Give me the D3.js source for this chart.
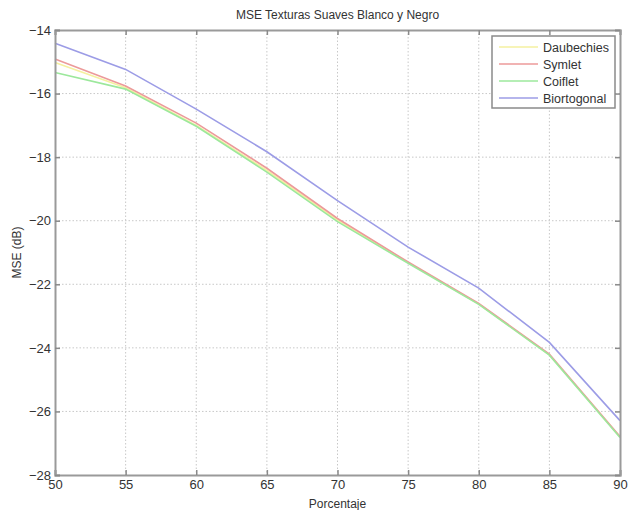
<!DOCTYPE html>
<html>
<head>
<meta charset="utf-8">
<script src="https://cdn.jsdelivr.net/npm/d3@7"></script>
<style>
  body { margin: 0; background: #fff; }
  text { font-family: "Liberation Sans", Arial, sans-serif; }
</style>
</head>
<body>
<div id="chart"></div>
<script>
// Data
const porcentaje = [50, 55, 60, 65, 70, 75, 80, 85, 90];
const daubechies = [-15.02, -15.82, -17.00, -18.42, -19.98, -21.32, -22.62, -24.22, -26.80];
const symlet = [-14.91, -15.76, -16.93, -18.35, -19.93, -21.30, -22.60, -24.20, -26.79];
const coiflet = [-15.34, -15.86, -17.03, -18.47, -20.03, -21.34, -22.63, -24.23, -26.82];
const biortogonal = [-14.42, -15.24, -16.49, -17.83, -19.37, -20.83, -22.12, -23.83, -26.29];
const xTicks = [50, 55, 60, 65, 70, 75, 80, 85, 90];
const yTicks = [-14, -16, -18, -20, -22, -24, -26, -28];

const series = [
    { name: "Daubechies", values: daubechies, color: "#f5f0a0" },
    { name: "Symlet", values: symlet, color: "#ec9a9a" },
    { name: "Coiflet", values: coiflet, color: "#9ce89c" },
    { name: "Biortogonal", values: biortogonal, color: "#9c9ce6" }
];

// Set up dimensions and margins
const margin = { top: 30, right: 16, bottom: 35, left: 55 };
const width = 636 - margin.left - margin.right;
const height = 510 - margin.top - margin.bottom;

const svg = d3.select("#chart")
    .append("svg")
    .attr("width", 636)
    .attr("height", 510)
    .append("g")
    .attr("transform", "translate(" + margin.left + "," + margin.top + ")");

// Scales
const xScale = d3.scaleLinear().domain([50, 90]).range([0, width]);
const yScale = d3.scaleLinear().domain([-28, -14]).range([height, 0]);

// Grid lines
svg.append("g")
    .selectAll("line")
    .data(xTicks.slice(1, -1))
    .join("line")
    .attr("x1", d => xScale(d)).attr("x2", d => xScale(d))
    .attr("y1", 0).attr("y2", height)
    .attr("stroke", "#c8c8c8")
    .attr("stroke-dasharray", "1.5,2");

svg.append("g")
    .selectAll("line")
    .data(yTicks.slice(1, -1))
    .join("line")
    .attr("x1", 0).attr("x2", width)
    .attr("y1", d => yScale(d)).attr("y2", d => yScale(d))
    .attr("stroke", "#c8c8c8")
    .attr("stroke-dasharray", "1.5,2");

// Lines
const line = d3.line()
    .x((d, i) => xScale(porcentaje[i]))
    .y(d => yScale(d));

series.forEach(s => {
    svg.append("path")
        .datum(s.values)
        .attr("d", line)
        .attr("fill", "none")
        .attr("stroke", s.color)
        .attr("stroke-width", 1.6);
});

// Axes (ticks pointing inward, MATLAB style)
const xAxis = svg.append("g")
    .attr("transform", "translate(0," + height + ")")
    .call(d3.axisBottom(xScale).tickValues(xTicks).tickSize(-5).tickPadding(5).tickFormat(d3.format("d")));

const xAxisTop = svg.append("g")
    .call(d3.axisTop(xScale).tickValues(xTicks).tickSize(-5).tickFormat(""));

const yAxis = svg.append("g")
    .call(d3.axisLeft(yScale).tickValues(yTicks).tickSize(-5).tickPadding(4).tickFormat(d3.format("d")));

const yAxisRight = svg.append("g")
    .attr("transform", "translate(" + width + ",0)")
    .call(d3.axisRight(yScale).tickValues(yTicks).tickSize(-5).tickFormat(""));

[xAxis, xAxisTop, yAxis, yAxisRight].forEach(a => {
    a.select(".domain").attr("stroke", "#9a9a9a").attr("stroke-width", 2);
    a.selectAll(".tick line").attr("stroke", "#8a8a8a").attr("stroke-width", 1.5);
    a.selectAll(".tick text").attr("fill", "#333").style("font-size", "13px");
});

// Title and axis labels
svg.append("text")
    .attr("x", width / 2)
    .attr("y", -11)
    .attr("text-anchor", "middle")
    .attr("fill", "#333")
    .style("font-size", "12px")
    .text("MSE Texturas Suaves Blanco y Negro");

svg.append("text")
    .attr("x", width / 2)
    .attr("y", height + 33)
    .attr("text-anchor", "middle")
    .attr("fill", "#333")
    .style("font-size", "12px")
    .text("Porcentaje");

svg.append("text")
    .attr("transform", "rotate(-90)")
    .attr("x", -height / 2)
    .attr("y", -34)
    .attr("text-anchor", "middle")
    .attr("fill", "#333")
    .style("font-size", "12px")
    .text("MSE (dB)");

// Legend
const legend = svg.append("g")
    .attr("transform", "translate(" + (width - 128) + ",6)");

legend.append("rect")
    .attr("width", 123)
    .attr("height", 72)
    .attr("fill", "#fff")
    .attr("stroke", "#8a8a8a")
    .attr("stroke-width", 1.5);

series.forEach((s, i) => {
    legend.append("line")
        .attr("x1", 7).attr("x2", 46)
        .attr("y1", 11 + i * 17).attr("y2", 11 + i * 17)
        .attr("stroke", s.color)
        .attr("stroke-width", 1.6);
    legend.append("text")
        .attr("x", 51)
        .attr("y", 15.5 + i * 17)
        .attr("fill", "#333")
        .style("font-size", "12.5px")
        .text(s.name);
});
</script>
</body>
</html>
